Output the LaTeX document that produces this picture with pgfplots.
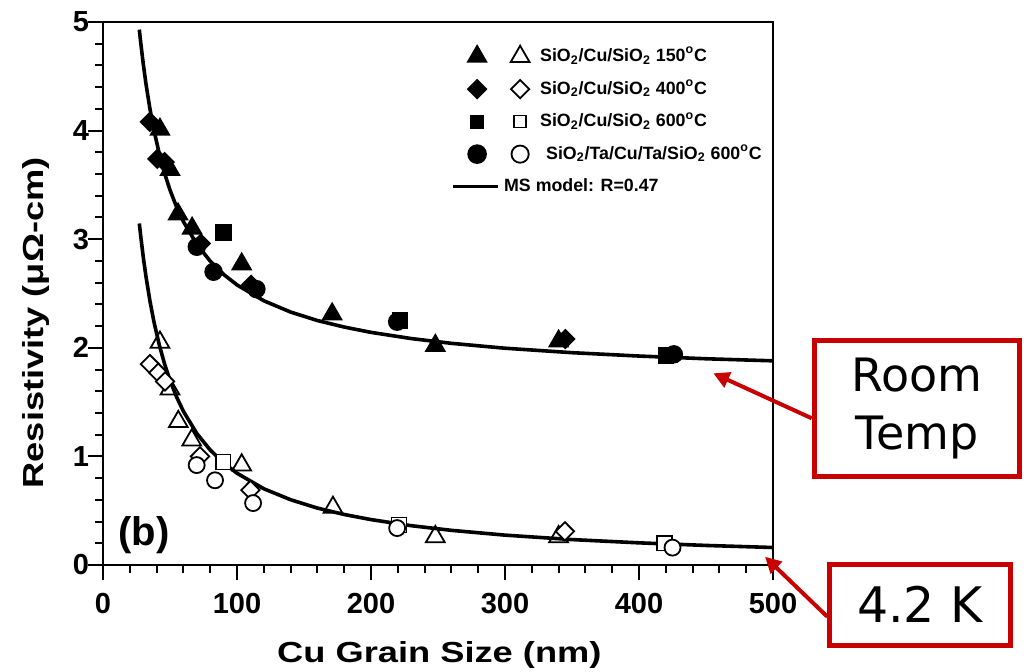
\documentclass[border=0pt]{standalone}
\usepackage{fontspec}
\setmainfont{Liberation Sans}
\newfontfamily\widefont[FakeStretch=1.25]{Liberation Sans}
\newfontfamily\annfont{DejaVu Sans}
\usepackage{pgfplots}
\pgfplotsset{compat=1.18}
\usetikzlibrary{arrows.meta}
\definecolor{boxred}{RGB}{200,0,0}

% marker styles: filled = room temperature, open = 4.2 K
\pgfplotsset{
  fTri/.style={only marks, mark=triangle*, mark size=5.4pt, mark options={fill=black, draw=black, line width=0.8pt}},
  oTri/.style={only marks, mark=triangle, mark size=5.4pt, mark options={fill=white, draw=black, line width=0.9pt}},
  fDia/.style={only marks, mark=diamond*, mark size=4.6pt, mark options={xscale=1.33, fill=black, draw=black, line width=0.8pt}},
  oDia/.style={only marks, mark=diamond*, mark size=4.6pt, mark options={xscale=1.33, fill=white, draw=black, line width=0.9pt}},
  fSq/.style={only marks, mark=square*, mark size=3.7pt, mark options={fill=black, draw=black, line width=0.8pt}},
  oSq/.style={only marks, mark=square*, mark size=3.7pt, mark options={fill=white, draw=black, line width=0.7pt}},
  fCi/.style={only marks, mark=*, mark size=4.2pt, mark options={fill=black, draw=black, line width=0.8pt}},
  oCi/.style={only marks, mark=*, mark size=4pt, mark options={fill=white, draw=black, line width=0.9pt}},
}

\newcommand{\twolegend}[2]{%
  \addlegendimage{legend image code/.code={
    \path[draw=none, fill=none] (-9pt,-0.5pt) rectangle (35.5pt,0.5pt);
    \draw plot[#1] coordinates {(4pt,0pt)};
    \draw plot[#2] coordinates {(25.5pt,0pt)};
  }}}

\begin{document}
\begin{tikzpicture}
\useasboundingbox (0,0) rectangle (513pt,336pt);
\begin{axis}[
    at={(51.5pt,53.5pt)}, anchor=south west,
    scale only axis, width=335pt, height=271.5pt,
    xmin=0, xmax=500, ymin=0, ymax=5,
    xtick={0,100,...,500}, ytick={0,1,...,5},
    minor x tick num=4, minor y tick num=4,
    tick align=outside, xtick pos=bottom, ytick pos=left,
    major tick length=7.5pt, minor tick length=4pt,
    tick style={black, line width=1pt},
    axis line style={line width=1.3pt},
    ticklabel style={font=\bfseries\fontsize{14.5}{16}\selectfont},
    xticklabel style={yshift=-3pt},
    yticklabel style={xshift=4pt},
    /pgf/number format/assume math mode=true,
    xlabel={Cu Grain Size (nm)},
    ylabel={Resistivity (μΩ-cm)},
    label style={font=\widefont\bfseries\fontsize{14.5}{17}\selectfont},
    xlabel style={at={(axis description cs:0.502,-0.166)}, anchor=center},
    ylabel style={at={(axis description cs:-0.1,0.446)}, anchor=center},
    legend style={draw=none, fill=none, at={(axis description cs:0.519,0.957)},
        anchor=north west, inner sep=0pt, row sep=7.2pt,
        font=\bfseries\fontsize{8.9}{10}\selectfont,
        nodes={inner sep=0pt, text height=7pt, text depth=2pt}},
    legend cell align=left,
]

% MS model curves
\addplot[black, line width=1.8pt, forget plot] coordinates {
 (27.1,4.93) (28,4.826) (30,4.618) (32,4.436) (35,4.202) (38,4.005) (42,3.786)
 (46,3.605) (50,3.453) (55,3.294) (60,3.162) (70,2.954) (80,2.798) (90,2.676)
 (100,2.579) (120,2.433) (140,2.329) (160,2.251) (180,2.191) (200,2.142)
 (230,2.085) (260,2.041) (300,1.996) (350,1.955) (400,1.924) (450,1.899) (500,1.880)};
\addplot[black, line width=1.8pt, forget plot] coordinates {
 (27.1,3.145) (28,3.044) (30,2.84) (32,2.662) (35,2.433) (38,2.24) (42,2.026)
 (46,1.849) (50,1.70) (55,1.545) (60,1.415) (70,1.211) (80,1.059) (90,0.94)
 (100,0.845) (120,0.702) (140,0.601) (160,0.524) (180,0.465) (200,0.418)
 (230,0.362) (260,0.319) (300,0.275) (350,0.234) (400,0.204) (450,0.18) (500,0.161)};

% room temperature (filled)
\addplot[fTri, forget plot] coordinates {(42.5,4.01) (50,3.64) (56,3.23) (66.5,3.10) (103.5,2.77) (171,2.31) (248,2.02) (340,2.06)};
\addplot[fDia, forget plot] coordinates {(35,4.08) (40.5,3.74) (46,3.71) (73,2.96) (110.5,2.58) (345,2.08)};
\addplot[fSq, forget plot] coordinates {(89.8,3.06) (221.5,2.25) (420,1.93)};
\addplot[fCi, forget plot] coordinates {(70,2.93) (82.5,2.70) (114.5,2.54) (219.5,2.24) (426,1.94)};

% 4.2 K (open)
\addplot[oTri, forget plot] coordinates {(42.5,2.05) (50,1.62) (56.2,1.32) (66.2,1.15) (103.5,0.92) (171.6,0.53) (248,0.26) (340,0.26)};
\addplot[oDia, forget plot] coordinates {(35,1.85) (41.3,1.77) (46.3,1.69) (72.4,1.00) (110,0.69) (344.7,0.31)};
\addplot[oSq, forget plot] coordinates {(89.8,0.95) (221,0.37) (419,0.20)};
\addplot[oCi, forget plot] coordinates {(69.9,0.92) (83.6,0.78) (112,0.57) (219.5,0.34) (425,0.16)};

\twolegend{mark=triangle*, mark size=5.4pt, mark options={fill=black, line width=0.8pt}}{mark=triangle, mark size=5.4pt, mark options={line width=0.9pt}}
\addlegendentry{SiO\textsubscript{2}/Cu/SiO\textsubscript{2} 150\textsuperscript{o}C}
\twolegend{mark=diamond*, mark size=4.6pt, mark options={xscale=1.33, fill=black, line width=0.8pt}}{mark=diamond*, mark size=4.6pt, mark options={xscale=1.33, fill=white, line width=0.9pt}}
\addlegendentry{SiO\textsubscript{2}/Cu/SiO\textsubscript{2} 400\textsuperscript{o}C}
\twolegend{mark=square*, mark size=3pt, mark options={fill=black, line width=0.8pt}}{mark=square*, mark size=3pt, mark options={fill=white, line width=0.7pt}}
\addlegendentry{SiO\textsubscript{2}/Cu/SiO\textsubscript{2} 600\textsuperscript{o}C}
\twolegend{mark=*, mark size=4.5pt, mark options={fill=black, line width=0.8pt}}{mark=*, mark size=4.3pt, mark options={fill=white, line width=0.9pt}}
\addlegendentry{\hspace*{3pt}SiO\textsubscript{2}/Ta/Cu/Ta/SiO\textsubscript{2} 600\textsuperscript{o}C}
\addlegendimage{legend image code/.code={
    \path[draw=none, fill=none] (-9pt,-0.5pt) rectangle (35.5pt,0.5pt);
    \draw[black, line width=1.8pt] (-8pt,0pt) -- (14.5pt,0pt);
  }}
\addlegendentry{\hspace*{-18pt}MS model: R=0.47}

\node[font=\bfseries\fontsize{20}{24}\selectfont] at (axis cs:30.6,0.276) {(b)};
\end{axis}

% annotation boxes and arrows
\node[draw=boxred, line width=2.5pt, minimum width=102.5pt, minimum height=68pt,
      inner sep=0pt, align=center, font=\annfont\fontsize{23}{29}\selectfont]
      at (458.5pt,131.5pt) {Room\\Temp};
\node[draw=boxred, line width=2.5pt, minimum width=90.2pt, minimum height=40.5pt,
      inner sep=0pt, font=\annfont\fontsize{24.5}{29}\selectfont]
      at (460pt,33.65pt) {4.2 K};
\draw[boxred, line width=2pt, -{Triangle[length=8pt,width=8pt]}] (405.85pt,126.85pt) -- (356.65pt,149.35pt);
\draw[boxred, line width=2pt, -{Triangle[length=8pt,width=8pt]}] (413.65pt,27.65pt) -- (382.5pt,57.65pt);
\end{tikzpicture}
\end{document}
